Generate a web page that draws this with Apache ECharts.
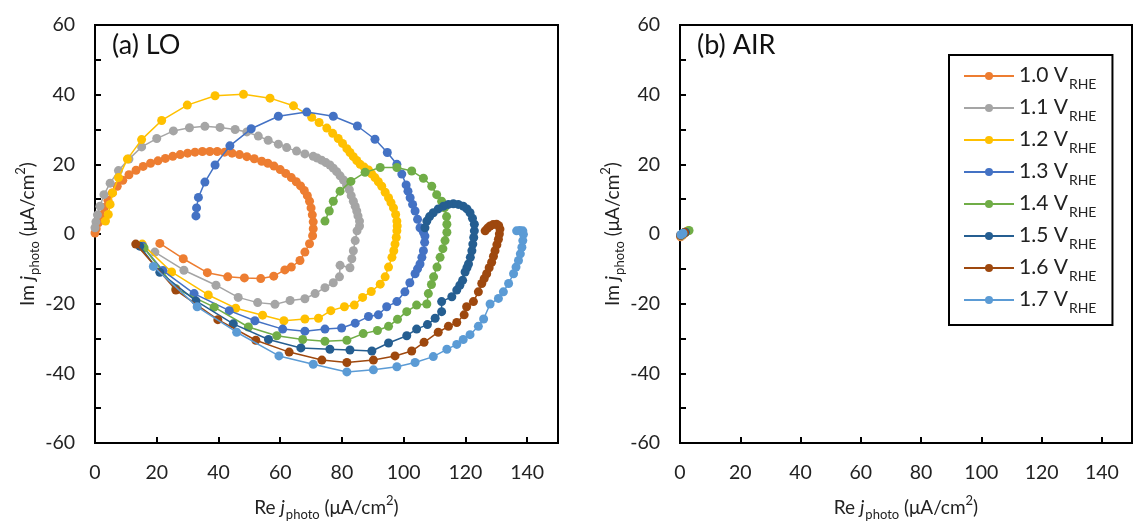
<!DOCTYPE html>
<html>
<head>
<meta charset="utf-8">
<script src="https://cdn.jsdelivr.net/npm/echarts@6/dist/echarts.min.js"></script>
<style>html,body{margin:0;padding:0;background:#fff;}#c{width:1135px;height:526px;}</style>
</head>
<body>
<div id="c"></div>
<script>
// ---------- data ----------
const seriesNames = ['1.0 V','1.1 V','1.2 V','1.3 V','1.4 V','1.5 V','1.6 V','1.7 V'];
const colors = ['#ED7D31','#A5A5A5','#FFC000','#4472C4','#70AD47','#255E91','#9E480E','#5B9BD5'];
const xTicks = [0,20,40,60,80,100,120,140];
const yTicks = [-60,-40,-20,0,20,40,60];

// (a) LO  [Re, Im]
const lo10 = [[21.0,-2.7],[28.6,-7.1],[36.4,-11.1],[43.0,-12.3],[48.4,-12.6],[53.7,-12.8],[57.9,-12.1],[61.5,-10.3],[63.6,-9.5],[66.4,-7.6],[68.0,-5.2],[69.5,-2.8],[70.5,-0.5],[70.7,1.5],[70.7,3.5],[70.4,5.5],[70.0,7.5],[69.5,9.4],[68.8,11.0],[67.8,12.5],[66.6,13.8],[65.2,15.0],[63.6,16.2],[61.8,17.4],[60.0,18.5],[58.0,19.5],[56.0,20.3],[54.0,20.9],[51.6,21.6],[49.2,22.2],[46.8,22.8],[44.4,23.2],[42.0,23.5],[39.6,23.7],[37.2,23.7],[34.8,23.7],[32.4,23.5],[30.0,23.2],[27.6,22.8],[25.2,22.3],[22.8,21.7],[20.4,21.0],[18.0,20.3],[15.6,19.4],[13.3,18.3],[11.0,17.0],[9.0,15.4],[7.2,13.7],[5.6,11.8],[4.2,9.7],[3.0,7.6],[2.0,5.4],[1.1,3.2],[0.4,1.5],[0.0,0.3]];
const lo11 = [[19.4,-5.2],[28.8,-10.4],[39.2,-14.7],[46.4,-18.2],[52.7,-19.7],[58.3,-20.2],[63.2,-19.1],[68.0,-18.6],[71.3,-17.1],[74.5,-15.4],[77.2,-14.0],[79.2,-12.3],[79.4,-9.0],[82.6,-9.7],[83.2,-7.1],[83.7,-4.8],[84.3,-1.9],[84.9,0.9],[85.7,2.3],[85.7,3.7],[85.2,5.2],[84.8,6.6],[84.3,8.0],[83.7,9.4],[83.0,11.0],[82.4,12.7],[81.5,14.1],[80.5,15.5],[79.4,16.7],[78.3,17.9],[77.2,18.9],[76.1,19.8],[74.8,20.5],[73.4,21.2],[72.0,21.8],[70.7,22.3],[68.0,23.0],[65.3,23.8],[62.1,24.8],[59.4,25.8],[56.1,26.9],[52.9,28.1],[49.2,29.3],[45.4,30.0],[40.5,30.6],[35.6,30.9],[30.6,30.5],[25.4,29.6],[20.0,27.4],[15.1,25.0],[11.0,21.5],[7.6,18.2],[4.9,14.6],[2.9,11.3],[1.6,8.0],[0.8,5.5],[0.3,3.5],[0.0,1.8]];
const lo12 = [[15.3,-2.9],[24.8,-10.9],[36.7,-17.5],[45.6,-21.3],[54.3,-23.3],[61.2,-24.9],[68.0,-24.4],[72.4,-24.2],[76.4,-22.0],[80.8,-20.9],[84.0,-20.4],[86.7,-18.2],[89.5,-16.5],[92.4,-14.4],[94.0,-12.3],[95.1,-9.5],[96.2,-6.7],[96.8,-4.8],[97.2,-2.9],[97.6,-1.0],[97.8,0.9],[97.9,2.3],[97.8,3.7],[97.4,5.6],[96.7,7.5],[95.9,9.0],[95.1,10.4],[94.0,12.0],[92.9,13.7],[91.8,15.0],[90.7,16.2],[89.6,17.3],[88.6,18.4],[87.2,19.2],[85.9,20.0],[84.8,21.1],[83.7,22.2],[82.6,23.4],[81.6,24.5],[80.2,26.0],[78.8,27.4],[77.0,28.9],[75.1,30.4],[72.6,32.0],[70.2,33.5],[64.3,36.8],[56.7,39.0],[48.1,40.1],[38.9,39.7],[29.9,37.0],[21.6,32.6],[15.1,27.1],[10.5,21.5],[7.6,16.2],[5.7,11.8],[4.9,8.5],[4.3,5.6],[3.4,3.7]];
const lo13 = [[15.5,-3.5],[22.0,-10.5],[32.1,-17.1],[43.5,-22.0],[51.8,-24.9],[60.8,-27.3],[68.0,-27.9],[74.5,-27.3],[79.9,-27.0],[84.3,-25.6],[88.6,-23.7],[91.8,-23.2],[94.5,-20.9],[97.8,-19.4],[100.4,-16.6],[102.0,-14.0],[103.7,-11.4],[104.5,-10.0],[105.3,-8.6],[105.9,-6.7],[106.4,-4.8],[106.8,-2.4],[106.9,-0.6],[106.4,0.5],[105.3,1.8],[104.5,4.2],[103.7,6.6],[102.9,8.5],[102.1,10.4],[101.4,12.3],[100.8,14.1],[99.4,17.2],[97.8,20.0],[94.7,23.4],[90.7,27.2],[85.0,31.0],[77.2,33.8],[68.6,35.0],[59.4,33.8],[50.6,30.2],[43.7,25.3],[38.9,19.8],[35.6,14.9],[33.5,10.5],[32.9,7.5],[32.7,5.2]];
const lo14 = [[15.9,-4.0],[26.2,-15.7],[38.6,-21.0],[49.7,-26.7],[58.9,-29.2],[67.3,-30.3],[74.5,-30.8],[81.6,-30.5],[86.9,-28.6],[91.5,-27.7],[95.1,-26.5],[98.0,-24.5],[101.0,-22.3],[104.2,-20.4],[107.5,-20.1],[108.0,-17.1],[109.0,-14.5],[109.7,-12.3],[110.8,-9.5],[111.8,-6.7],[112.7,-4.2],[113.4,-1.9],[114.0,0.5],[114.0,2.8],[113.9,5.0],[113.2,7.5],[112.3,9.4],[110.7,11.3],[109.1,13.7],[106.4,16.0],[102.6,18.1],[97.8,19.1],[92.4,19.1],[87.5,17.7],[82.9,15.1],[79.4,12.3],[77.2,9.4],[75.9,6.6],[74.5,3.7]];
const lo15 = [[14.5,-3.5],[21.0,-11.0],[32.7,-19.2],[44.8,-25.8],[56.2,-30.3],[66.7,-32.7],[76.1,-33.1],[82.6,-33.3],[89.7,-33.6],[95.1,-31.3],[101.0,-29.2],[104.2,-27.3],[107.7,-26.0],[110.2,-24.2],[112.3,-22.3],[112.3,-19.4],[115.6,-18.0],[117.2,-16.1],[118.2,-14.7],[119.1,-13.3],[119.9,-10.9],[120.5,-9.7],[121.0,-8.6],[121.6,-6.7],[122.1,-4.8],[122.4,-2.9],[122.7,-1.0],[122.9,0.9],[122.9,2.8],[122.3,4.5],[121.5,6.1],[120.5,7.2],[119.3,8.0],[117.7,8.5],[116.1,8.7],[114.5,8.5],[112.9,8.0],[111.2,7.2],[109.6,6.1],[108.4,5.0],[107.5,3.7],[106.9,1.8]];
const lo16 = [[13.2,-2.9],[26.2,-16.1],[39.8,-24.6],[52.1,-30.5],[62.9,-33.9],[73.5,-36.2],[81.6,-36.9],[90.2,-36.2],[97.2,-35.0],[102.6,-33.6],[106.6,-31.1],[111.2,-28.2],[114.5,-26.5],[117.2,-25.4],[119.6,-23.2],[120.4,-20.9],[122.6,-19.4],[124.2,-16.6],[125.3,-14.2],[126.1,-12.8],[126.9,-11.4],[127.7,-9.7],[128.5,-8.1],[129.1,-6.4],[129.6,-4.8],[130.2,-3.1],[130.7,-1.5],[131.0,0.0],[131.2,1.4],[130.8,2.4],[130.1,2.8],[129.0,2.7],[128.0,2.3],[127.2,1.7],[126.4,0.9]];
const lo17 = [[18.9,-9.3],[33.1,-20.9],[45.9,-28.2],[59.6,-35.0],[70.7,-37.4],[81.6,-39.6],[90.2,-39.0],[97.8,-38.1],[103.7,-36.9],[109.6,-35.2],[114.0,-33.1],[117.2,-31.7],[119.3,-30.3],[121.5,-28.9],[124.2,-26.5],[125.9,-24.4],[128.0,-20.1],[130.7,-18.5],[132.3,-16.6],[134.0,-14.2],[135.6,-11.4],[136.4,-9.5],[137.2,-7.6],[137.8,-5.7],[138.3,-3.8],[138.6,-1.9],[138.8,-0.1],[138.6,0.9],[137.6,1.0],[136.6,0.9]];

// (b) AIR  [Re, Im]
const air10 = [[0.2,-0.8],[0.8,-0.4],[1.4,0.2],[2.0,0.6]];
const air11 = [[0.3,-0.6],[0.9,-0.1],[1.6,0.4]];
const air12 = [[0.3,-0.5],[1.0,0.0],[1.8,0.5],[2.6,0.9]];
const air13 = [[0.3,-0.4],[1.0,0.1],[1.7,0.5]];
const air14 = [[0.4,-0.3],[1.5,0.4],[3.0,1.0]];
const air15 = [[0.3,-0.3],[1.0,0.1],[1.8,0.5]];
const air16 = [[0.2,-0.4],[0.8,0.0],[1.5,0.4]];
const air17 = [[0.3,-0.2],[1.0,0.2]];

const loData = [lo10,lo11,lo12,lo13,lo14,lo15,lo16,lo17];
const airData = [air10,air11,air12,air13,air14,air15,air16,air17];

// ---------- chart ----------
const FONT = 'Lato, "Open Sans", sans-serif';
const TXT = '#222';
const chart = echarts.init(document.getElementById('c'), null, {renderer:'canvas'});

const nameRich = {
  a:{fontSize:19, fontFamily:FONT, color:TXT, lineHeight:20, verticalAlign:'top', padding:[5,0,0,0]},
  i:{fontSize:19, fontFamily:FONT, color:TXT, fontStyle:'italic', lineHeight:20, verticalAlign:'top', padding:[5,1,0,0]},
  s:{fontSize:13, fontFamily:FONT, color:TXT, lineHeight:13, verticalAlign:'top', padding:[15,0,0,0]},
  p:{fontSize:13, fontFamily:FONT, color:TXT, lineHeight:13, verticalAlign:'top', padding:[1,0,0,0]}
};

function xAxisDef(g){
  return {
    gridIndex:g, type:'value', min:0, max:150, interval:20,
    axisLine:{show:true, onZero:false, lineStyle:{color:'#000', width:2}},
    axisTick:{show:true, inside:true, length:6, lineStyle:{color:'#000', width:2}},
    axisLabel:{margin:20, color:TXT, fontSize:19.5, fontFamily:FONT,
      formatter:v => xTicks.includes(v) ? String(v) : ''},
    splitLine:{show:false},
    name:'{a|Re }{i|j}{s|photo}{a| (μA/cm}{p|2}{a|)}',
    nameLocation:'middle', nameGap:50,
    nameTextStyle:{color:TXT, fontFamily:FONT, rich:nameRich}
  };
}
function yAxisDef(g){
  return {
    gridIndex:g, type:'value', min:-60, max:60, interval:10,
    axisLine:{show:true, onZero:false, lineStyle:{color:'#000', width:2}},
    axisTick:{show:true, inside:true, length:6, lineStyle:{color:'#000', width:2}},
    axisLabel:{margin:20, color:TXT, fontSize:19.5, fontFamily:FONT,
      formatter:v => yTicks.includes(v) ? String(v) : ''},
    splitLine:{show:false},
    name:'{a|Im }{i|j}{s|photo}{a| (μA/cm}{p|2}{a|)}',
    nameLocation:'middle', nameGap:58, nameRotate:90,
    nameTextStyle:{color:TXT, fontFamily:FONT, rich:nameRich}
  };
}

const series = [];
[loData, airData].forEach((set, g) => {
  set.forEach((d, k) => {
    series.push({
      name: seriesNames[k], type:'line', xAxisIndex:g, yAxisIndex:g,
      data: d, symbol:'circle', symbolSize:9, showSymbol:true,
      itemStyle:{color:colors[k]}, lineStyle:{color:colors[k], width:1.5},
      emphasis:{disabled:true}, animation:false, z:2+k
    });
  });
});

chart.setOption({
  backgroundColor:'#fff',
  animation:false,
  grid:[
    {left:95, top:25, width:463, height:423, show:true, borderColor:'#000', borderWidth:2, backgroundColor:'transparent'},
    {left:680, top:25, width:466, height:423, show:true, borderColor:'#000', borderWidth:2, backgroundColor:'transparent'}
  ],
  xAxis:[xAxisDef(0), xAxisDef(1)],
  yAxis:[yAxisDef(0), yAxisDef(1)],
  legend:{
    orient:'vertical', left:949, top:55,
    data:seriesNames,
    backgroundColor:'#fff', borderColor:'#000', borderWidth:2,
    padding:[10,16,10,14], itemGap:6, itemWidth:50, itemHeight:10,
    formatter:n => '{a|' + n + '}{b|RHE}',
    textStyle:{color:TXT, fontFamily:FONT, rich:{
      a:{fontSize:21, fontFamily:FONT, color:TXT, lineHeight:22, verticalAlign:'top', padding:[0,1,0,0]},
      b:{fontSize:14, fontFamily:FONT, color:TXT, lineHeight:14, verticalAlign:'top', padding:[12,0,0,0]}
    }},
    selectedMode:false
  },
  graphic:[
    {type:'text', left:112, top:32, style:{text:'(a) LO', fontSize:27, fontFamily:FONT, fill:'#111'}},
    {type:'text', left:697, top:32, style:{text:'(b) AIR', fontSize:27, fontFamily:FONT, fill:'#111'}}
  ],
  series:series
});
</script>
</body>
</html>
